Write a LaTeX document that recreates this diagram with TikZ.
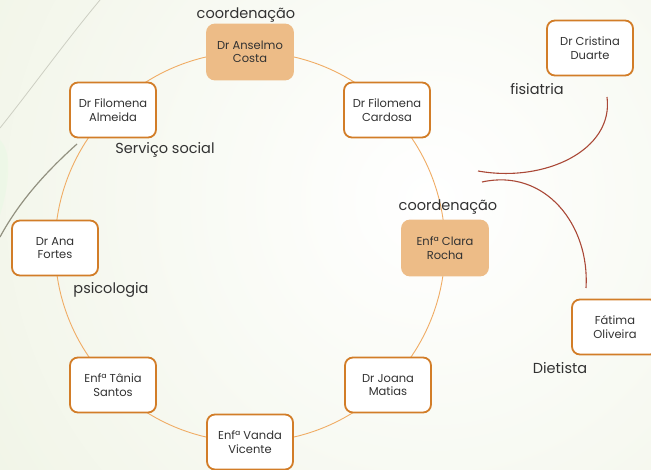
\documentclass[tikz,border=0pt]{standalone}
\usepackage{fontspec}
\setmainfont{Poppins}
\definecolor{bggreen}{RGB}{232,238,216}
\definecolor{boxorange}{RGB}{210,125,40}
\definecolor{leadfill}{RGB}{237,188,135}
\definecolor{ringline}{RGB}{240,172,100}
\definecolor{linkred}{RGB}{170,72,55}
\definecolor{textgray}{RGB}{50,50,50}
\definecolor{wispgray}{RGB}{205,207,195}
\definecolor{wispolive}{RGB}{110,108,85}
\begin{document}
\begin{tikzpicture}[x=1pt,y=-1pt,
  member/.style={draw=boxorange, line width=1.8pt, rounded corners=8pt, fill=white,
    minimum width=86pt, minimum height=55pt, align=center, inner sep=2pt,
    font=\fontsize{11.5}{13.5}\selectfont, text=textgray},
  lead/.style={member, fill=leadfill, draw=leadfill},
  tag/.style={font=\fontsize{14.5}{16}\selectfont, text=textgray, inner sep=0pt},
  ring/.style={draw=ringline, line width=0.9pt},
  link/.style={draw=linkred, line width=1.1pt}]
% canvas and background glow
\clip (0,0) rectangle (651,470);
\useasboundingbox (0,0) rectangle (651,470);
\fill[bggreen] (0,0) rectangle (651,470);
\shade[inner color=white, outer color=bggreen] (430,200) circle [radius=850pt];
% decorative wisps along the left edge
\fill[bggreen!70!green!30!white, opacity=0.35] (0,140) .. controls (10,150) and (12,175) .. (0,215) -- cycle;
\draw[wispgray, line width=0.8pt] (100,0) .. controls (65,42) and (32,88) .. (0,128);
\draw[wispolive!75, line width=1.2pt] (77,144) .. controls (48,170) and (20,200) .. (0,237);
% team ring
\coordinate (hub) at (250,247);
\draw[ring] (hub) circle [radius=195pt];
% team members around the ring
\node[lead]   (anselmo) at (250,52)  {Dr Anselmo\\Costa};
\node[member] (cardosa) at (387,110) {Dr Filomena\\Cardosa};
\node[lead]   (clara)   at (445,248) {Enfª Clara\\Rocha};
\node[member] (joana)   at (388,385) {Dr Joana\\Matias};
\node[member] (vanda)   at (250,442) {Enfª Vanda\\Vicente};
\node[member] (tania)   at (113,385) {Enfª Tânia\\Santos};
\node[member] (ana)     at (55,248)  {Dr Ana\\Fortes};
\node[member] (almeida) at (113,110) {Dr Filomena\\Almeida};
% external members
\node[member] (cristina) at (590,48)  {Dr Cristina\\Duarte};
\node[member] (fatima)   at (615,327) {Fátima\\Oliveira};
% links to the external members
\coordinate (fisEnd) at (607,97);
\coordinate (fisTip) at (478,171);
\coordinate (dieTip) at (482,182);
\coordinate (dieEnd) at (586,288);
\draw[link] (fisEnd) .. controls (614,150) and (545,183) .. (fisTip);
\draw[link] (dieTip) .. controls (545,168) and (590,225) .. (dieEnd);
% role labels
\node[tag] at (246,15)  {coordenação};
\node[tag] at (165,150) {Serviço social};
\node[tag] at (111,290) {psicologia};
\node[tag] at (448,207) {coordenação};
\node[tag] at (537,89)  {fisiatria};
\node[tag] at (560,368) {Dietista};
\end{tikzpicture}
\end{document}
